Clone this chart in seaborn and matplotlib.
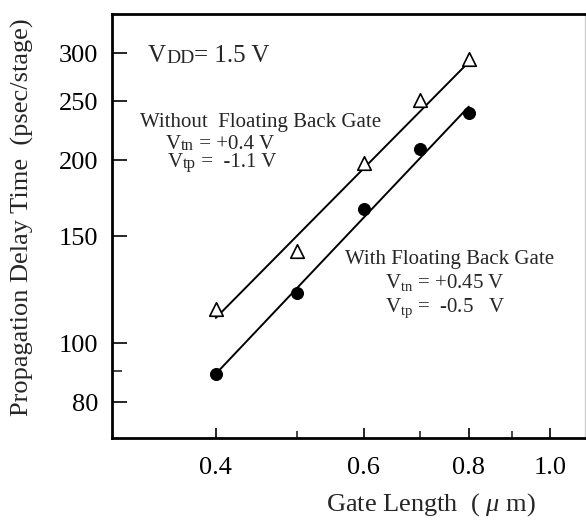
import numpy as np
import pandas as pd
import matplotlib
matplotlib.use("Agg")
import matplotlib.pyplot as plt
import seaborn as sns
from matplotlib.ticker import FixedLocator, NullFormatter

# ---- data ----
gate_length = [0.4, 0.5, 0.6, 0.7, 0.8]
delay_without_fbg = [114, 142, 198, 251, 294]   # open triangles
delay_with_fbg = [89, 121, 166, 209, 239]       # filled circles
fit_x = [0.4, 0.8]
fit_without = [110, 290]
fit_with = [89, 245]

x_major = [0.4, 0.6, 0.8, 1.0]
x_major_labels = ["0.4", "0.6", "0.8", "1.0"]
x_minor = [0.5, 0.7, 0.9]
y_major = [80, 100, 150, 200, 250, 300]
y_major_labels = ["80", "100", "150", "200", "250", "300"]
y_minor = [90]

df_pts = pd.DataFrame({
    "L": gate_length * 2,
    "delay": delay_without_fbg + delay_with_fbg,
    "series": ["without"] * len(gate_length) + ["with"] * len(gate_length),
})
df_fit = pd.DataFrame({
    "L": fit_x * 2,
    "delay": fit_without + fit_with,
    "series": ["without"] * 2 + ["with"] * 2,
})

sns.set_theme(style="ticks")
plt.rcParams["font.family"] = ["Liberation Serif", "DejaVu Serif"]
plt.rcParams["mathtext.fontset"] = "custom"
plt.rcParams["mathtext.rm"] = "Liberation Serif"
plt.rcParams["mathtext.it"] = "Liberation Serif:italic"

fig = plt.figure(figsize=(5.86, 5.21), dpi=100)
ax = fig.add_axes([112 / 586, 1 - 438 / 521, (585 - 112) / 586, (438 - 14) / 521])

sns.lineplot(data=df_fit, x="L", y="delay", units="series", estimator=None,
             color="black", lw=1.4, ax=ax, legend=False)
sns.scatterplot(data=df_pts[df_pts.series == "without"], x="L", y="delay",
                marker="^", s=95, facecolor="white", edgecolor="black",
                linewidth=1.2, ax=ax, legend=False, zorder=3)
sns.scatterplot(data=df_pts[df_pts.series == "with"], x="L", y="delay",
                marker="o", s=75, color="black", edgecolor="black",
                ax=ax, legend=False, zorder=3)

ax.set_xscale("log")
ax.set_yscale("log")
ax.set_xlim(0.301, 1.10)
ax.set_ylim(69.8, 348)

ax.xaxis.set_major_locator(FixedLocator(x_major))
ax.set_xticklabels(x_major_labels)
ax.xaxis.set_minor_locator(FixedLocator(x_minor))
ax.xaxis.set_minor_formatter(NullFormatter())
ax.yaxis.set_major_locator(FixedLocator(y_major))
ax.set_yticklabels(y_major_labels)
ax.yaxis.set_minor_locator(FixedLocator(y_minor))
ax.yaxis.set_minor_formatter(NullFormatter())

ax.tick_params(axis="x", which="major", direction="in", length=7, width=1.2,
               labelsize=19, pad=14, colors="black")
ax.tick_params(axis="x", which="minor", direction="in", length=5, width=1.2)
ax.tick_params(axis="y", which="major", direction="in", length=11, width=1.2,
               labelsize=19, pad=10, colors="black")
ax.tick_params(axis="y", which="minor", direction="in", length=7, width=1.2)

for side in ["left", "bottom", "top"]:
    ax.spines[side].set_linewidth(2)
    ax.spines[side].set_color("black")
ax.spines["right"].set_linewidth(1)
ax.spines["right"].set_color("#cccccc")

ax.set_xlabel("Gate Length  ( $\\mu$ m)", fontsize=19)
ax.set_ylabel("Propagation Delay Time  (psec/stage)", fontsize=19)
ax.xaxis.set_label_coords(0.675, -0.125)
ax.yaxis.set_label_coords(-0.165, 0.521)


def px(x, y):
    return (x / 586, 1 - y / 521)


def small_caps_text(x, y, big, small, rest, size, small_size):
    t1 = fig.text(*px(x, y), big, fontsize=size, va="baseline", ha="left")
    t2 = ax.annotate(small, xy=(1, 0), xycoords=t1, va="bottom", ha="left",
                     fontsize=small_size)
    ax.annotate(rest, xy=(1, 0), xycoords=t2, va="bottom", ha="left",
                fontsize=size)


small_caps_text(148, 62, "V", "DD", "= 1.5 V", 18, 14)
fig.text(*px(140, 127), "Without  Floating Back Gate", fontsize=15,
         va="baseline", ha="left")
small_caps_text(166, 149, "V", "tn", " = +0.4 V", 15, 12)
small_caps_text(168, 167, "V", "tp", " =  -1.1 V", 15, 12)

fig.text(*px(345, 264), "With Floating Back Gate", fontsize=15,
         va="baseline", ha="left")
fig.text(*px(385, 288), "V$_{\\mathrm{tn}}$ = +0.45 V", fontsize=15,
         va="baseline", ha="left")
fig.text(*px(385, 312), "V$_{\\mathrm{tp}}$ =  -0.5   V", fontsize=15,
         va="baseline", ha="left")

fig.savefig("out.png", dpi=100)
